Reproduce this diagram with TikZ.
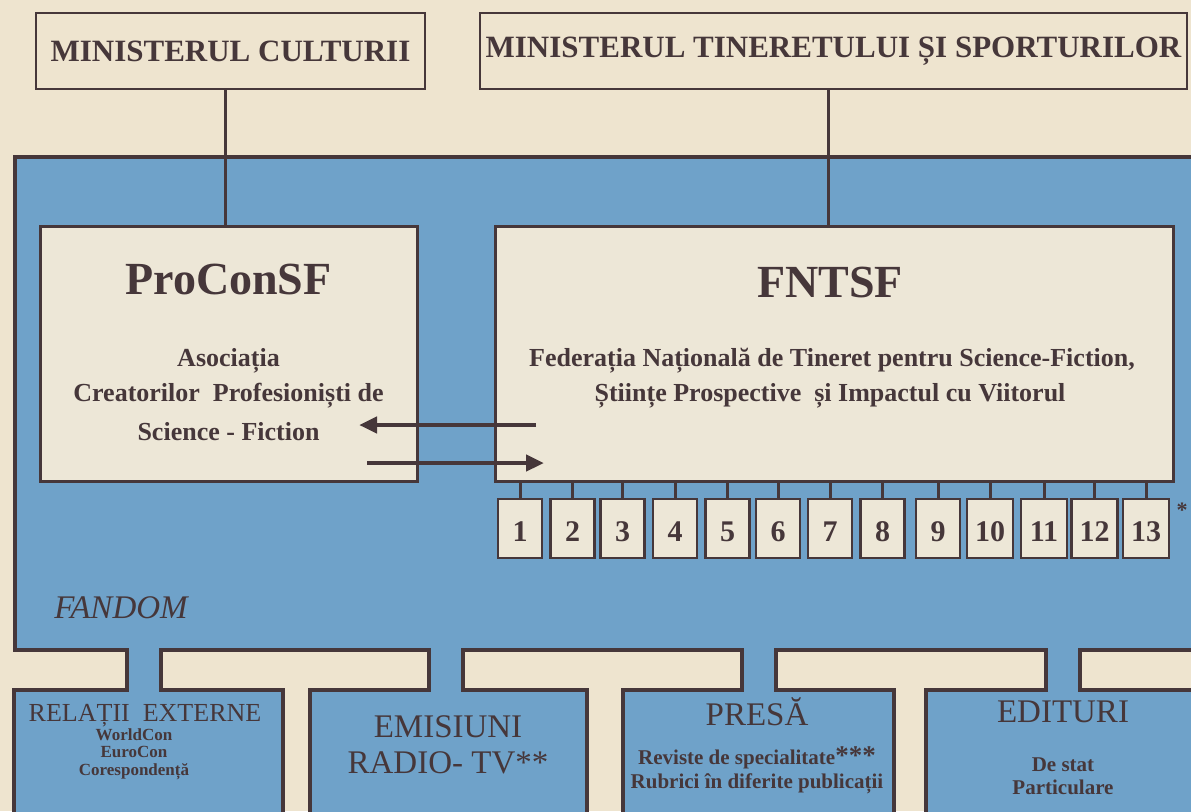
\documentclass[tikz,border=0pt]{standalone}
\usepackage{fontspec}
\setmainfont{Liberation Serif}
\usetikzlibrary{arrows.meta}
\definecolor{paper}{HTML}{EEE4CF}
\definecolor{boxpaper}{HTML}{EDE7D7}
\definecolor{sky}{HTML}{6FA2C9}
\definecolor{ink}{HTML}{46373A}
\begin{document}
\begin{tikzpicture}[x=1pt, y=-1pt,
  every node/.style={text=ink, inner sep=0pt},
  ministry/.style={draw=ink, line width=2pt, fill=paper, minimum height=76pt, font=\bfseries\fontsize{31}{31}\selectfont},
  bigbox/.style={draw=ink, line width=3pt, fill=boxpaper, minimum height=255pt},
  numbox/.style={draw=ink, line width=2.5pt, fill=boxpaper, minimum width=44pt, minimum height=59pt, text height=26pt, font=\bfseries\fontsize{30}{30}\selectfont},
  fanbox/.style={draw=ink, line width=4pt, fill=sky, minimum height=140pt},
  titletext/.style={font=\bfseries\fontsize{46}{46}\selectfont},
  subtext/.style={font=\bfseries\fontsize{26}{26}\selectfont},
  headtext/.style={font=\fontsize{33}{36}\selectfont, align=center},
  smalltext/.style={font=\bfseries\fontsize{21}{23}\selectfont, align=center},
  link/.style={draw=ink, line width=3pt},
  arr/.style={draw=ink, line width=4.5pt, -{Triangle[length=18pt,width=16pt]}},
  stem/.style={draw=ink, line width=4pt, double=sky, double distance=30pt, shorten <=-4pt, shorten >=-4pt}]
      \useasboundingbox (0,0) rectangle (1191,811);
      \clip (0,0) rectangle (1191,811);
      \fill[paper] (0,0) rectangle (1191,811);

      \node[ministry, minimum width=389pt] (mc) at (230.5,51) {MINISTERUL CULTURII};
      \node[ministry, minimum width=707pt] (mts) at (833.5,51) {MINISTERUL TINERETULUI ȘI SPORTURILOR};
      \node[draw=ink, line width=4pt, fill=sky, minimum width=1200pt, minimum height=493pt] (fandom) at (615,403.5) {};
      \node[font=\itshape\fontsize{33}{33}\selectfont] (fan) at (121,608) {FANDOM};

      \node[bigbox, minimum width=377pt] (pcs) at (228.5,353.5) {};
      \node[bigbox, minimum width=678pt] (fntsf) at (834,353.5) {};
      \draw[link] ([xshift=-3.5pt]pcs.north) -- ([xshift=-3.5pt]pcs.north |- mc.south);
      \draw[link] ([xshift=-6pt]fntsf.north) -- ([xshift=-6pt]fntsf.north |- mts.south);

      \node[titletext] (pcstitle) at (228.5,279) {ProConSF};
      \node[subtext] (pcs1) at (228.5,361) {Asociația};
      \node[subtext] (pcs2) at (228.5,396) {Creatorilor~ Profesioniști de};
      \node[subtext] (pcs3) at (228.5,432) {Science - Fiction};
      \node[titletext] (fntsftitle) at (830,282) {FNTSF};
      \node[subtext] (fntsf1) at (832,361) {Federația Națională de Tineret pentru Science-Fiction,};
      \node[subtext] (fntsf2) at (830,396) {Științe Prospective~ și Impactul cu Viitorul};

      \coordinate (a1) at (536,425);
      \coordinate (a2) at (359,425);
      \coordinate (b1) at (367,463);
      \coordinate (b2) at (544,463);
      \draw[arr] (a1) -- (a2);
      \draw[arr] (b1) -- (b2);

      \node[numbox] (n1) at (520,528.5) {1};
      \node[numbox] (n2) at (572.5,528.5) {2};
      \node[numbox] (n3) at (622.5,528.5) {3};
      \node[numbox] (n4) at (675,528.5) {4};
      \node[numbox] (n5) at (727.5,528.5) {5};
      \node[numbox] (n6) at (778,528.5) {6};
      \node[numbox] (n7) at (830,528.5) {7};
      \node[numbox] (n8) at (882.5,528.5) {8};
      \node[numbox] (n9) at (938,528.5) {9};
      \node[numbox, minimum width=46pt] (n10) at (990,528.5) {10};
      \node[numbox, minimum width=46pt] (n11) at (1044,528.5) {11};
      \node[numbox, minimum width=46pt] (n12) at (1094.5,528.5) {12};
      \node[numbox, minimum width=46pt] (n13) at (1146,528.5) {13};
      \node[font=\bfseries\fontsize{22}{22}\selectfont] (star) at (1182,510) {*};
      \draw[link] (fntsf.south -| n1) -- (n1) (fntsf.south -| n2) -- (n2) (fntsf.south -| n3) -- (n3)
        (fntsf.south -| n4) -- (n4) (fntsf.south -| n5) -- (n5) (fntsf.south -| n6) -- (n6)
        (fntsf.south -| n7) -- (n7) (fntsf.south -| n8) -- (n8) (fntsf.south -| n9) -- (n9)
        (fntsf.south -| n10) -- (n10) (fntsf.south -| n11) -- (n11) (fntsf.south -| n12) -- (n12)
        (fntsf.south -| n13) -- (n13);

      \node[fanbox, minimum width=269pt] (rel) at (148.5,760) {};
      \node[fanbox, minimum width=277pt] (emi) at (448.5,760) {};
      \node[fanbox, minimum width=271pt] (pre) at (758.5,760) {};
      \node[fanbox, minimum width=274pt] (edi) at (1063,760) {};
      \draw[stem] ([xshift=-5pt]fandom.south -| rel.north) -- ([xshift=-5pt]rel.north);
      \draw[stem] ([xshift=-3pt]fandom.south -| emi.north) -- ([xshift=-3pt]emi.north);
      \draw[stem] (fandom.south -| pre.north) -- (pre.north);
      \draw[stem] (fandom.south -| edi.north) -- (edi.north);

      \node[font=\fontsize{26}{26}\selectfont] (reltitle) at (145,716) {RELAȚII~ EXTERNE};
      \node[font=\bfseries\fontsize{17}{17.5}\selectfont, align=center] (reltext) at (134,754) {WorldCon\\EuroCon\\Corespondență};
      \node[headtext] (emititle) at (448,745) {EMISIUNI\\RADIO- TV**};
      \node[headtext] (pretitle) at (757,712) {PRESĂ};
      \node[smalltext, font=\bfseries\fontsize{21}{24}\selectfont] (pretext) at (757,770) {Reviste de specialitate{\fontsize{27}{27}\selectfont***}\\Rubrici în diferite publicații};
      \node[headtext] (edititle) at (1063,712) {EDITURI};
      \node[smalltext] (editext) at (1063,776) {De stat\\Particulare};
\end{tikzpicture}
\end{document}
